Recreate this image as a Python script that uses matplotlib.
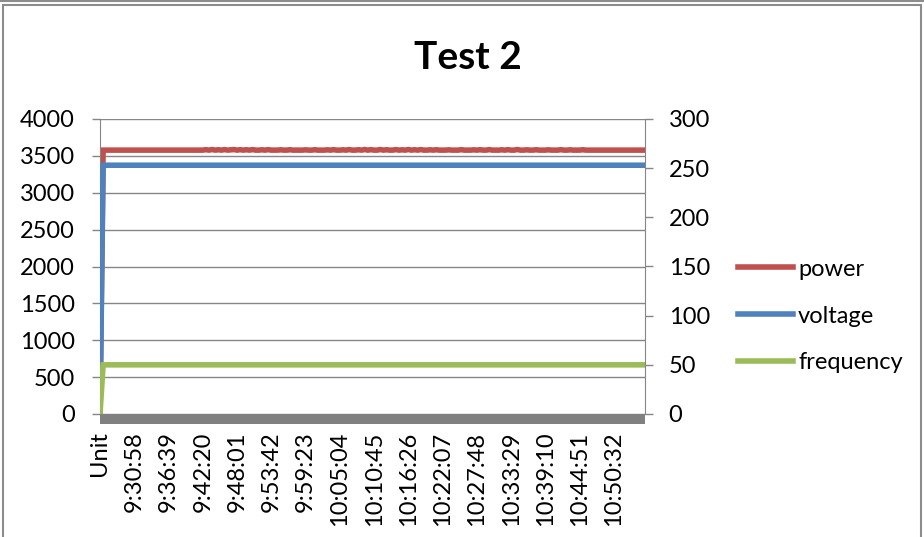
import numpy as np
import matplotlib
matplotlib.use('Agg')
import matplotlib.pyplot as plt
from matplotlib.patches import Rectangle
from matplotlib.lines import Line2D

plt.rcParams['font.family'] = ['Lato', 'DejaVu Sans']

# shown category labels (every 11th sample)
x_labels = ['Unit', '9:30:58', '9:36:39', '9:42:20', '9:48:01', '9:53:42',
            '9:59:23', '10:05:04', '10:10:45', '10:16:26', '10:22:07',
            '10:27:48', '10:33:29', '10:39:10', '10:44:51', '10:50:32']

# first row is the "Unit" text row -> plotted as 0
power = [
    0, 3578, 3578, 3578, 3578, 3578, 3578, 3578, 3578, 3578, 3578, 3578, 3578, 3578, 3578, 3578,
    3578, 3578, 3578, 3578, 3578, 3578, 3578, 3578, 3578, 3578, 3578, 3578, 3578, 3578, 3578, 3578,
    3578, 3578, 3584, 3578, 3586, 3578, 3583, 3578, 3585, 3578, 3582, 3586, 3578, 3584, 3578, 3583,
    3578, 3585, 3578, 3578, 3582, 3578, 3584, 3578, 3578, 3578, 3582, 3578, 3578, 3583, 3578, 3578,
    3578, 3578, 3582, 3578, 3578, 3583, 3578, 3578, 3578, 3582, 3578, 3584, 3578, 3578, 3582, 3578,
    3585, 3578, 3578, 3583, 3578, 3586, 3578, 3584, 3578, 3578, 3586, 3578, 3583, 3578, 3578, 3585,
    3578, 3582, 3578, 3586, 3578, 3583, 3578, 3585, 3578, 3578, 3582, 3578, 3583, 3578, 3578, 3578,
    3582, 3578, 3578, 3578, 3584, 3578, 3578, 3578, 3582, 3578, 3583, 3578, 3578, 3585, 3578, 3578,
    3578, 3582, 3578, 3584, 3578, 3578, 3586, 3578, 3578, 3582, 3578, 3578, 3583, 3578, 3578, 3578,
    3582, 3578, 3578, 3578, 3584, 3578, 3578, 3582, 3578, 3578, 3578, 3583, 3578, 3578, 3578, 3578,
    3578, 3578, 3578, 3578, 3578, 3578, 3578, 3578, 3578, 3578, 3578, 3578, 3578, 3578, 3578, 3578,
]

voltage = [
    0, 253, 253, 253, 253, 253, 253, 253, 253, 253, 253, 253, 253, 253, 253, 253,
    253, 253, 253, 253, 253, 253, 253, 253, 253, 253, 253, 253, 253, 253, 253, 253,
    253, 253, 253, 253, 253, 253, 253, 253, 253, 253, 253, 253, 253, 253, 253, 253,
    253, 253, 253, 253, 253, 253, 253, 253, 253, 253, 253, 253, 253, 253, 253, 253,
    253, 253, 253, 253, 253, 253, 253, 253, 253, 253, 253, 253, 253, 253, 253, 253,
    253, 253, 253, 253, 253, 253, 253, 253, 253, 253, 253, 253, 253, 253, 253, 253,
    253, 253, 253, 253, 253, 253, 253, 253, 253, 253, 253, 253, 253, 253, 253, 253,
    253, 253, 253, 253, 253, 253, 253, 253, 253, 253, 253, 253, 253, 253, 253, 253,
    253, 253, 253, 253, 253, 253, 253, 253, 253, 253, 253, 253, 253, 253, 253, 253,
    253, 253, 253, 253, 253, 253, 253, 253, 253, 253, 253, 253, 253, 253, 253, 253,
    253, 253, 253, 253, 253, 253, 253, 253, 253, 253, 253, 253, 253, 253, 253, 253,
]

frequency = [
    0, 50, 50, 50, 50, 50, 50, 50, 50, 50, 50, 50, 50, 50, 50, 50,
    50, 50, 50, 50, 50, 50, 50, 50, 50, 50, 50, 50, 50, 50, 50, 50,
    50, 50, 50, 50, 50, 50, 50, 50, 50, 50, 50, 50, 50, 50, 50, 50,
    50, 50, 50, 50, 50, 50, 50, 50, 50, 50, 50, 50, 50, 50, 50, 50,
    50, 50, 50, 50, 50, 50, 50, 50, 50, 50, 50, 50, 50, 50, 50, 50,
    50, 50, 50, 50, 50, 50, 50, 50, 50, 50, 50, 50, 50, 50, 50, 50,
    50, 50, 50, 50, 50, 50, 50, 50, 50, 50, 50, 50, 50, 50, 50, 50,
    50, 50, 50, 50, 50, 50, 50, 50, 50, 50, 50, 50, 50, 50, 50, 50,
    50, 50, 50, 50, 50, 50, 50, 50, 50, 50, 50, 50, 50, 50, 50, 50,
    50, 50, 50, 50, 50, 50, 50, 50, 50, 50, 50, 50, 50, 50, 50, 50,
    50, 50, 50, 50, 50, 50, 50, 50, 50, 50, 50, 50, 50, 50, 50, 50,
]

label_step = 11
grey = '#868686'
fs = 17

W, H = 924, 537
fig = plt.figure(figsize=(W / 100, H / 100), dpi=100)
ax = fig.add_axes([100 / W, 1 - 414 / H, 545 / W, 295 / H])
ax2 = ax.twinx()

x = np.arange(len(power))
l1, = ax.plot(x, power, color='#C0504D', lw=4, label='power',
              solid_joinstyle='miter')
l2, = ax2.plot(x, voltage, color='#4F81BD', lw=4, label='voltage',
               solid_joinstyle='miter')
l3, = ax2.plot(x, frequency, color='#9BBB59', lw=4, label='frequency',
               solid_joinstyle='miter')

ax.set_xlim(0, len(power) - 1)
ax.set_ylim(0, 4000)
ax.set_yticks(np.arange(0, 4001, 500))
ax2.set_ylim(0, 300)
ax2.set_yticks(np.arange(0, 301, 50))

ax.set_xticks(np.arange(len(x_labels)) * label_step)
ax.set_xticklabels(x_labels)

ax.grid(axis='y', color=grey, lw=1)
ax.set_axisbelow(True)

ax.spines['top'].set_visible(False)
ax.spines['right'].set_visible(False)
for s in ['top', 'bottom', 'left']:
    ax2.spines[s].set_visible(False)
ax.spines['left'].set_color(grey)
ax2.spines['right'].set_color(grey)
ax.spines['bottom'].set_color('#808080')
ax.spines['bottom'].set_linewidth(7.2)
ax.spines['bottom'].set_capstyle('butt')
ax.spines['bottom'].set_position(('outward', 3.6))

ax.tick_params(axis='y', direction='out', length=6, width=1, color=grey,
               labelsize=fs, pad=12)
ax.tick_params(axis='x', length=0, labelsize=fs, pad=9, labelrotation=90)
ax2.tick_params(axis='y', direction='out', length=6, width=1, color=grey,
                labelsize=fs, pad=11)

fig.text(468 / W, 1 - 57 / H, 'Test 2', ha='center', va='center',
         fontsize=28, fontweight='bold')

fig.legend(handles=[l1, l2, l3], loc='center left',
           bbox_to_anchor=(738 / W, 1 - 316 / H), frameon=False,
           fontsize=fs, handlelength=2.35, handletextpad=0.2,
           labelspacing=1.1, borderpad=0, borderaxespad=0)

# chart frame
fig.patches.append(Rectangle((3 / W, -0.02), 918 / W, 1.02 - 5 / H,
                             transform=fig.transFigure, fill=False,
                             edgecolor='#8c8c8c', lw=1.5))
fig.lines.append(Line2D([0, 1], [1 - 1 / H, 1 - 1 / H],
                        transform=fig.transFigure, color='#8c8c8c', lw=1.5))

fig.savefig('out.png', dpi=100)
